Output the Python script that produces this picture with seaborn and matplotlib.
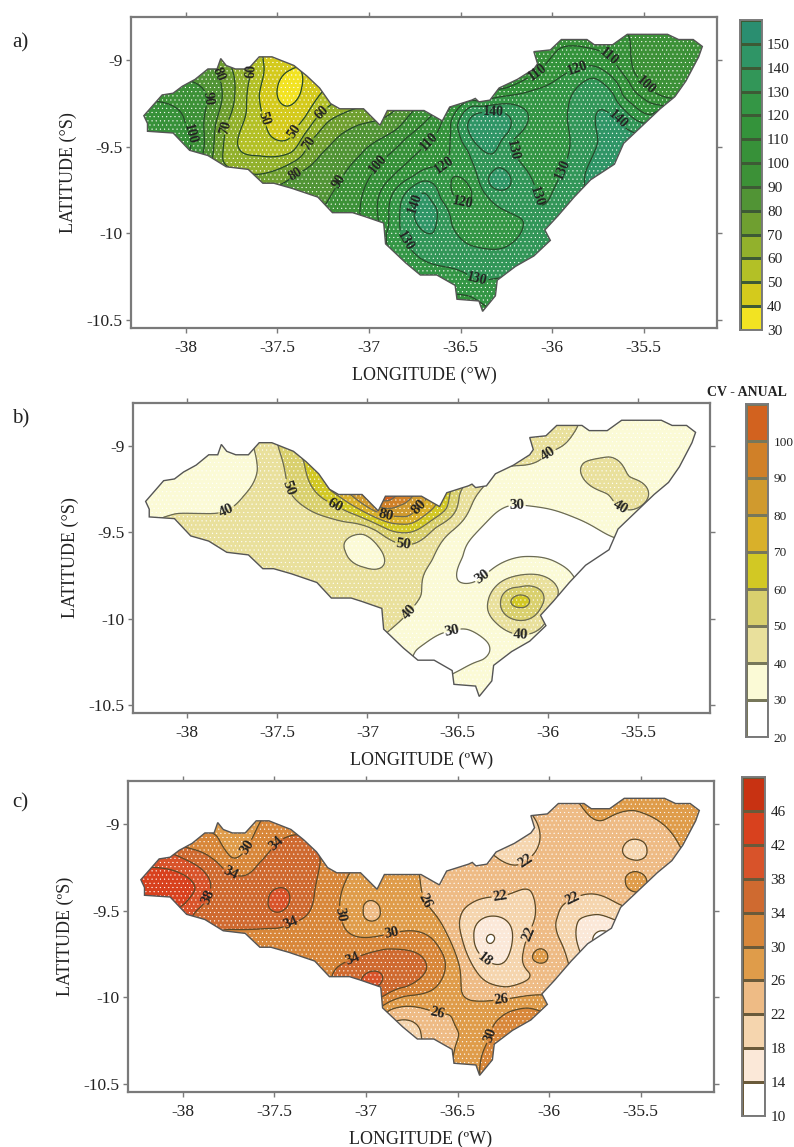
"""Mapas de Alagoas: precipitacao anual (a), CV anual (b) e um terceiro campo (c)."""
import numpy as np
import matplotlib
matplotlib.use("Agg")
import matplotlib.pyplot as plt
from matplotlib.colors import BoundaryNorm, ListedColormap
from matplotlib.patches import Polygon
import seaborn as sns

# contorno do estado (lon, lat)
OUTLINE_LON = [-38.23, -38.13, -38.07, -38.02, -37.95, -37.88, -37.83, -37.81, -37.78, -37.73, -37.66, -37.60,
               -37.53, -37.41, -37.34, -37.27, -37.21, -37.16, -37.03, -36.94, -36.90, -36.70, -36.60, -36.56,
               -36.44, -36.42, -36.40, -36.34, -36.29, -36.19, -36.10, -36.08, -36.10, -36.01, -35.95, -35.81,
               -35.77, -35.67, -35.59, -35.37, -35.31, -35.23, -35.18, -35.20, -35.27, -35.33, -35.41, -35.51,
               -35.61, -35.66, -35.79, -35.88, -35.97, -36.04, -36.01, -36.10, -36.20, -36.30, -36.31, -36.38,
               -36.40, -36.52, -36.53, -36.63, -36.72, -36.80, -36.91, -36.92, -37.03, -37.09, -37.20, -37.28,
               -37.42, -37.52, -37.58, -37.66, -37.78, -37.88, -37.98, -38.07, -38.21, -38.21]
OUTLINE_LAT = [-9.32, -9.20, -9.19, -9.15, -9.11, -9.05, -9.05, -8.99, -9.03, -9.05, -9.05, -8.98,
               -8.98, -9.03, -9.09, -9.16, -9.25, -9.28, -9.28, -9.375, -9.29, -9.29, -9.35, -9.27,
               -9.23, -9.22, -9.24, -9.23, -9.16, -9.11, -9.05, -9.02, -8.95, -8.94, -8.88, -8.88,
               -8.91, -8.91, -8.85, -8.85, -8.88, -8.88, -8.92, -8.98, -9.12, -9.21, -9.28, -9.38,
               -9.48, -9.60, -9.69, -9.79, -9.90, -9.98, -10.04, -10.13, -10.19, -10.27, -10.36, -10.45,
               -10.39, -10.38, -10.30, -10.24, -10.24, -10.17, -10.06, -9.94, -9.90, -9.88, -9.88, -9.79,
               -9.74, -9.71, -9.71, -9.63, -9.615, -9.55, -9.52, -9.42, -9.41, -9.365]

XTICKS = [-38, -37.5, -37, -36.5, -36, -35.5]
YTICKS = [-9, -9.5, -10, -10.5]
XTICK_LABELS = ["-38", "-37.5", "-37", "-36.5", "-36", "-35.5"]
YTICK_LABELS = ["-9", "-9.5", "-10", "-10.5"]

A_POINTS = [
    (-38.22, -9.33, 104), (-38.1, -9.3, 104), (-38.0, -9.38, 100), (-37.97, -9.45, 100), (-38.05, -9.2, 94),
    (-37.88, -9.22, 90), (-37.9, -9.5, 90), (-37.83, -9.06, 80), (-37.82, -9.3, 80), (-37.85, -9.53, 80),
    (-37.75, -9.05, 70), (-37.78, -9.38, 70), (-37.8, -9.58, 70), (-37.64, -9.04, 60), (-37.67, -9.3, 60),
    (-37.72, -9.48, 60), (-37.6, -9.55, 60), (-37.42, -9.53, 60), (-37.3, -9.35, 60), (-37.2, -9.27, 62),
    (-37.58, -9.0, 50), (-37.6, -9.2, 50), (-37.56, -9.38, 50), (-37.43, -9.45, 50), (-37.35, -9.33, 50),
    (-37.27, -9.2, 50), (-37.43, -9.16, 36), (-37.5, -9.16, 40), (-37.37, -9.16, 40), (-37.43, -9.06, 40),
    (-37.43, -9.26, 40), (-37.62, -9.66, 70), (-37.42, -9.59, 70), (-37.33, -9.48, 70), (-37.22, -9.35, 70),
    (-37.05, -9.29, 72), (-37.68, -9.72, 80), (-37.4, -9.66, 80), (-37.22, -9.5, 80), (-37.05, -9.37, 80),
    (-36.87, -9.3, 80), (-37.25, -9.85, 90), (-37.16, -9.7, 90), (-37.05, -9.55, 90), (-36.85, -9.4, 90),
    (-36.76, -9.29, 90), (-37.05, -9.88, 100), (-36.95, -9.6, 100), (-36.8, -9.45, 100), (-36.66, -9.32, 100),
    (-36.67, -9.47, 110), (-36.88, -9.68, 110), (-36.93, -9.98, 112), (-36.56, -9.28, 110), (-36.25, -9.16, 110),
    (-36.08, -9.07, 110), (-35.96, -8.93, 110), (-35.8, -8.93, 110), (-35.69, -8.98, 110), (-35.58, -9.12, 110),
    (-35.5, -9.22, 110), (-35.38, -9.27, 110), (-35.58, -8.86, 100), (-35.55, -9.08, 100), (-35.45, -9.18, 100),
    (-35.32, -9.22, 100), (-35.4, -8.95, 94), (-35.25, -8.93, 92), (-35.86, -9.05, 120), (-36.1, -9.17, 120),
    (-36.4, -9.24, 120), (-36.55, -9.4, 120), (-36.58, -9.6, 120), (-36.5, -9.63, 123), (-36.75, -9.68, 122),
    (-36.86, -9.75, 120), (-36.9, -10.0, 122), (-35.72, -9.06, 120), (-35.62, -9.2, 120), (-35.45, -9.32, 120),
    (-36.49, -9.75, 117), (-36.55, -9.75, 120), (-36.44, -9.75, 120), (-36.49, -9.68, 120), (-36.49, -9.82, 120),
    (-36.55, -9.95, 130), (-36.8, -10.04, 130), (-36.82, -9.8, 130), (-36.72, -9.7, 130),
    (-36.6, -9.8, 128), (-36.75, -9.85, 140), (-36.7, -9.76, 140), (-36.63, -9.85, 140), (-36.65, -10.0, 140),
    (-36.72, -9.97, 140), (-36.7, -9.88, 144), (-36.41, -10.11, 131), (-36.19, -10.11, 131), (-36.41, -10.27, 130),
    (-36.3, -10.2, 131), (-36.45, -10.36, 120), (-36.16, -9.96, 130), (-36.02, -9.81, 130), (-35.94, -9.63, 130),
    (-35.91, -9.27, 130), (-35.77, -9.1, 130), (-35.66, -9.2, 130), (-35.42, -9.32, 130), (-36.05, -9.51, 122),
    (-36.35, -9.97, 126), (-35.65, -9.33, 140), (-35.75, -9.47, 140), (-35.82, -9.65, 140), (-35.95, -9.9, 133),
    (-35.6, -9.45, 144), (-36.52, -9.38, 130), (-36.43, -9.26, 130), (-36.25, -9.25, 130), (-36.13, -9.33, 130),
    (-36.22, -9.46, 130), (-36.11, -9.69, 130), (-36.09, -9.77, 130), (-36.25, -9.87, 130), (-36.35, -9.79, 130),
    (-36.46, -9.52, 130), (-36.38, -9.3, 140), (-36.25, -9.31, 140), (-36.24, -9.42, 140), (-36.32, -9.65, 140),
    (-36.28, -9.75, 140), (-36.34, -9.72, 140), (-36.42, -9.48, 140), (-36.28, -9.37, 146), (-36.31, -9.68, 146),
    (-36.34, -9.5, 143),
]
A_LEVELS = list(range(30, 170, 10))
A_COLORS = ["#f2e322", "#d4ca1c", "#b3c026", "#92b12c", "#6f9f30", "#519435", "#3c9137",
            "#379139", "#34933b", "#349645", "#329658", "#2f9566", "#2a8e70"]
A_TICKS = list(range(30, 160, 10))
A_LABELS = [(-37.97, -9.42), (-37.88, -9.22), (-37.82, -9.08), (-37.8, -9.38), (-37.64, -9.06), (-37.58, -9.34),
            (-37.44, -9.39), (-37.33, -9.48), (-37.28, -9.28), (-37.4, -9.66), (-37.16, -9.7), (-36.95, -9.6),
            (-36.67, -9.47), (-36.08, -9.07), (-35.86, -9.05), (-35.69, -8.98), (-35.5, -9.16), (-36.32, -9.32),
            (-35.65, -9.35), (-36.16, -9.5), (-35.94, -9.63), (-36.58, -9.62), (-36.49, -9.82), (-36.16, -9.8),
            (-36.72, -9.83), (-36.8, -10.04), (-36.41, -10.27)]

# painel b
B_POINTS = [
    (-37.63, -9.01, 40), (-37.61, -9.14, 40), (-37.68, -9.28, 40), (-37.78, -9.375, 40), (-37.91, -9.39, 40),
    (-38.06, -9.39, 40), (-38.1, -9.3, 36), (-37.85, -9.2, 34), (-37.49, -9.02, 50), (-37.44, -9.24, 50),
    (-37.35, -9.35, 50), (-37.12, -9.44, 50), (-36.95, -9.49, 50), (-36.8, -9.57, 50), (-36.62, -9.47, 50),
    (-36.49, -9.28, 50), (-37.35, -9.1, 60), (-37.18, -9.34, 60), (-37.06, -9.40, 60), (-36.87, -9.49, 60),
    (-36.7, -9.47, 60), (-36.56, -9.36, 60), (-37.2, -9.26, 70), (-37.01, -9.385, 70), (-36.81, -9.45, 70),
    (-36.64, -9.365, 70), (-36.9, -9.40, 80), (-36.78, -9.41, 80), (-36.7, -9.34, 80), (-36.9, -9.3, 104),
    (-36.83, -9.33, 92), (-36.75, -9.29, 90), (-37.02, -9.61, 36), (-37.12, -9.61, 40), (-36.92, -9.61, 40),
    (-37.02, -9.51, 40), (-37.02, -9.70, 40), (-37.5, -9.6, 46), (-37.6, -9.45, 45), (-37.3, -9.7, 46),
    (-37.1, -9.8, 45), (-36.95, -9.9, 44), (-35.84, -8.90, 40), (-36.0, -9.04, 40), (-36.26, -9.13, 40),
    (-36.36, -9.24, 40), (-36.53, -9.49, 40), (-36.64, -9.66, 40), (-36.7, -9.86, 40), (-36.77, -9.96, 40),
    (-36.88, -10.07, 40), (-36.08, -9.0, 45), (-35.63, -9.53, 30), (-35.86, -9.41, 30), (-36.17, -9.34, 30),
    (-36.33, -9.43, 30), (-36.47, -9.64, 30), (-36.5, -9.78, 30), (-36.36, -9.76, 30), (-36.14, -9.64, 30),
    (-35.94, -9.68, 30), (-35.86, -9.75, 30), (-36.1, -9.5, 25), (-36.3, -9.55, 26), (-35.8, -9.55, 26),
    (-36.4, -9.63, 27), (-36.44, -9.74, 28),
    (-36.1, -9.25, 35), (-35.7, -9.0, 35), (-36.4, -9.6, 27), (-36.45, -9.9, 35), (-36.1, -9.7, 35),
    (-36.6, -9.95, 35), (-36.35, -10.3, 35), (-35.94, -9.84, 40), (-36.17, -9.75, 40), (-36.33, -9.90, 40),
    (-36.28, -10.03, 40), (-36.15, -10.09, 40), (-35.98, -9.93, 40), (-36.16, -9.82, 50), (-36.02, -9.90, 50),
    (-36.15, -10.01, 50), (-36.26, -9.90, 50), (-36.16, -9.86, 60), (-36.10, -9.9, 60), (-36.16, -9.93, 60),
    (-36.21, -9.9, 60), (-36.15, -9.9, 64), (-36.53, -10.07, 30), (-36.73, -10.18, 30), (-36.53, -10.32, 30),
    (-36.36, -10.24, 30), (-36.33, -10.14, 30), (-36.45, -10.06, 30), (-36.55, -10.18, 26), (-35.79, -9.09, 40),
    (-35.66, -9.06, 40), (-35.55, -9.18, 40), (-35.44, -9.28, 40), (-35.55, -9.37, 40), (-35.66, -9.28, 40),
    (-35.55, -9.28, 44), (-35.68, -9.15, 44), (-35.4, -9.05, 34), (-35.25, -8.95, 34), (-35.5, -8.87, 34),
    (-35.45, -9.42, 35), (-36.75, -10.1, 35),
]
B_LEVELS = list(range(20, 120, 10))
B_COLORS = ["#ffffff", "#fbfad6", "#e9e09c", "#d9d06e", "#d2c824",
            "#d9b02a", "#d09a2e", "#d08028", "#d2621f"]
B_TICKS = list(range(20, 110, 10))
B_LABELS = [(-37.78, -9.375), (-37.44, -9.24), (-37.18, -9.34), (-36.9, -9.40), (-36.7, -9.365), (-36.8, -9.57),
            (-36.0, -9.04), (-36.17, -9.34), (-36.36, -9.76), (-35.57, -9.3), (-36.77, -9.96), (-36.53, -10.07),
            (-36.15, -10.09)]

# painel c
C_POINTS = [
    (-38.14, -9.25, 42), (-38.0, -9.29, 42), (-37.93, -9.37, 42), (-37.99, -9.46, 42), (-38.1, -9.35, 44),
    (-38.2, -9.33, 43.5), (-38.03, -9.18, 38), (-37.88, -9.28, 38), (-37.86, -9.40, 38), (-37.93, -9.5, 38),
    (-38.0, -9.13, 34), (-37.81, -9.22, 34), (-37.74, -9.28, 34), (-37.59, -9.23, 34), (-37.49, -9.11, 34),
    (-37.38, -9.06, 34), (-37.25, -9.22, 34), (-37.28, -9.38, 34), (-37.41, -9.57, 34), (-37.53, -9.6, 34),
    (-37.78, -9.61, 34), (-37.6, -9.4, 36), (-37.4, -9.25, 36), (-37.7, -9.5, 36), (-37.48, -9.44, 40),
    (-37.53, -9.44, 38), (-37.42, -9.44, 38), (-37.48, -9.37, 38), (-37.48, -9.51, 38), (-37.65, -9.13, 30),
    (-37.73, -9.2, 30), (-37.81, -9.07, 30), (-37.59, -9.01, 30), (-37.72, -9.08, 28), (-37.09, -9.28, 30),
    (-37.14, -9.52, 30), (-37.11, -9.61, 30), (-36.86, -9.63, 30), (-36.64, -9.66, 30), (-36.57, -9.78, 30),
    (-36.59, -9.9, 30), (-36.78, -9.99, 30), (-36.91, -10.05, 30), (-37.2, -9.6, 32), (-37.0, -9.7, 32),
    (-37.3, -9.75, 32), (-37.07, -9.78, 34), (-36.89, -9.72, 34), (-36.7, -9.76, 34), (-36.67, -9.84, 34),
    (-36.78, -9.94, 34), (-36.92, -10.0, 34), (-36.85, -9.85, 36.5), (-36.96, -9.92, 39), (-36.71, -9.28, 26),
    (-36.68, -9.44, 26), (-36.59, -9.57, 26), (-36.49, -9.82, 26), (-36.48, -9.96, 26), (-36.42, -10.02, 26),
    (-36.26, -10.01, 26), (-36.0, -9.99, 26), (-36.61, -10.09, 26), (-36.87, -10.07, 26), (-36.53, -10.11, 26),
    (-36.49, -10.21, 26), (-36.52, -10.32, 26), (-36.65, -10.18, 24), (-36.8, -10.13, 22), (-36.7, -10.23, 22),
    (-36.75, -10.2, 20), (-36.32, -10.22, 30), (-36.27, -10.12, 30), (-36.12, -10.06, 30), (-36.38, -10.44, 30),
    (-36.2, -10.13, 32), (-36.45, -10.3, 28), (-36.45, -10.12, 28), (-36.9, -9.4, 28), (-36.8, -9.55, 28),
    (-36.97, -9.5, 24), (-37.01, -9.5, 26), (-36.93, -9.5, 26), (-36.97, -9.44, 26), (-36.97, -9.56, 26),
    (-36.3, -9.18, 22), (-36.13, -9.21, 22), (-36.05, -9.07, 22), (-36.09, -8.95, 22), (-36.2, -9.1, 20),
    (-36.27, -9.42, 22), (-36.1, -9.38, 22), (-36.08, -9.44, 22), (-36.14, -9.74, 22), (-36.1, -9.86, 22),
    (-36.23, -9.94, 22), (-36.39, -9.86, 22), (-36.49, -9.59, 22), (-36.43, -9.46, 22), (-36.3, -9.53, 18),
    (-36.21, -9.59, 18), (-36.24, -9.79, 18), (-36.35, -9.78, 18), (-36.41, -9.65, 18), (-36.3, -9.68, 14.5),
    (-36.32, -9.67, 13), (-36.08, -9.77, 27), (-35.87, -9.43, 22), (-35.95, -9.53, 22), (-35.95, -9.65, 22),
    (-35.89, -9.82, 22), (-35.6, -9.47, 22), (-35.84, -9.55, 18), (-35.73, -9.52, 18), (-35.65, -9.55, 18),
    (-35.84, -9.71, 18), (-35.75, -9.6, 16), (-35.73, -9.63, 13), (-35.52, -9.15, 20), (-35.6, -9.15, 22),
    (-35.47, -9.15, 22), (-35.52, -9.09, 22), (-35.52, -9.21, 22), (-35.53, -9.33, 28), (-35.58, -9.33, 26),
    (-35.47, -9.33, 26), (-35.53, -9.27, 26), (-35.53, -9.39, 26),
    (-35.77, -8.96, 26), (-35.71, -8.98, 26), (-35.53, -8.92, 26), (-35.39, -8.99, 26), (-35.28, -9.14, 26),
    (-35.3, -8.95, 28), (-35.5, -8.86, 28), (-35.9, -9.1, 24), (-35.65, -9.1, 24), (-36.4, -9.3, 24),
    (-35.9, -9.3, 24), (-36.55, -9.4, 24), (-36.0, -9.9, 24), (-35.4, -9.25, 24),
]
C_LEVELS = list(range(10, 54, 4))
C_COLORS = ["#ffffff", "#fbe8d8", "#f5d5ae", "#eebb85", "#df9c4a",
            "#d8873a", "#cf6a30", "#d8532a", "#d8411e", "#c83212"]
C_TICKS = list(range(10, 50, 4))
C_LABELS = [(-37.88, -9.41), (-37.74, -9.28), (-37.49, -9.11), (-37.65, -9.13), (-37.41, -9.57), (-37.14, -9.52),
            (-36.86, -9.63), (-37.07, -9.78), (-36.68, -9.44), (-36.13, -9.21), (-36.27, -9.42), (-35.87, -9.43),
            (-36.12, -9.63), (-36.35, -9.78), (-36.26, -10.01), (-36.61, -10.09), (-36.32, -10.22)]

BLACK = "#222222"
FRAME = "#7a7a7a"


def tps_field(points, lon_grid, lat_grid):
    """Campo suave (thin plate) passando pelos valores lidos"""
    p = np.array(points, dtype=float)
    xy = p[:, :2]
    n = len(p)
    d = np.linalg.norm(xy[:, None] - xy[None, :], axis=2)
    k = np.where(d > 0, d**2 * np.log(d + 1e-12), 0) + np.eye(n) * 1e-3
    q = np.column_stack([np.ones(n), xy])
    mat = np.block([[k, q], [q.T, np.zeros((3, 3))]])
    rhs = np.concatenate([p[:, 2], np.zeros(3)])
    sol = np.linalg.solve(mat, rhs)
    gx, gy = np.meshgrid(lon_grid, lat_grid)
    g = np.column_stack([gx.ravel(), gy.ravel()])
    dg = np.linalg.norm(g[:, None] - xy[None, :], axis=2)
    kg = np.where(dg > 0, dg**2 * np.log(dg + 1e-12), 0)
    z = kg @ sol[:n] + sol[n] + g @ sol[n + 1:]
    return gx, gy, z.reshape(gx.shape)


def px_axes(fig, left, top, right, bottom):
    w, h = fig.get_size_inches() * fig.dpi
    return fig.add_axes([left / w, 1 - bottom / h, (right - left) / w, (bottom - top) / h])


def draw_map(fig, box, points, levels, colors, labels, line_color, dot_color, label_size, tag, tag_y, ylab):
    ax = px_axes(fig, *box)
    lon = np.linspace(-38.3, -35.1, 330)
    lat = np.linspace(-10.55, -8.75, 190)
    gx, gy, z = tps_field(points, lon, lat)
    z = np.clip(z, levels[0] + 0.1, levels[-1] - 0.1)
    cmap = ListedColormap(colors)
    norm = BoundaryNorm(levels, cmap.N)
    shape = Polygon(np.column_stack([OUTLINE_LON, OUTLINE_LAT]), closed=True, facecolor="none",
                    edgecolor="#555555", linewidth=1.0, zorder=4)
    ax.add_patch(shape)
    # pontilhado do original
    plt.rcParams["hatch.color"] = dot_color
    plt.rcParams["hatch.linewidth"] = 0.3
    cf = ax.contourf(gx, gy, z, levels=levels, cmap=cmap, norm=norm, hatches=["...."] * len(colors))
    cf.set_clip_path(shape)
    cs = ax.contour(gx, gy, z, levels=levels, colors=line_color, linewidths=0.9)
    cs.set_clip_path(shape)
    txt = ax.clabel(cs, fmt="%d", fontsize=label_size, colors=BLACK, manual=labels, inline=True, inline_spacing=1)
    for t in txt:
        t.set_fontweight("bold")
    ax.set_xlim(-38.3, -35.1)
    ax.set_ylim(-10.546, -8.75)
    ax.set_xticks(XTICKS, XTICK_LABELS)
    ax.set_yticks(YTICKS, YTICK_LABELS)
    ax.tick_params(axis="both", top=True, right=True, direction="out", length=3.5, width=1, color=FRAME,
                   labelsize=12.5, labelcolor=BLACK, pad=5)
    ax.tick_params(axis="y", pad=2.5)
    for s in ax.spines.values():
        s.set_color(FRAME)
        s.set_linewidth(1.6)
    ax.set_xlabel(ylab[0], fontsize=13, color=BLACK, labelpad=8)
    ax.set_ylabel(ylab[1], fontsize=13, color=BLACK, labelpad=7)
    fig.text(12 / 794, 1 - tag_y / 1147, tag, fontsize=15, color=BLACK, va="center")
    return ax


def draw_bar(fig, box, levels, colors, ticks, line_color, size):
    ax = px_axes(fig, *box)
    mids = (np.array(levels[:-1]) + np.array(levels[1:])) / 2
    cmap = ListedColormap(colors)
    norm = BoundaryNorm(levels, cmap.N)
    sns.heatmap(mids[::-1].reshape(-1, 1), ax=ax, cmap=cmap, norm=norm, cbar=False, xticklabels=False,
                linewidths=0.9, linecolor=line_color)
    n = len(colors)
    ax.yaxis.tick_right()
    ax.set_yticks([n - levels.index(v) for v in ticks], [str(v) for v in ticks], rotation=0)
    ax.tick_params(axis="y", length=0, labelsize=size, labelcolor=BLACK, pad=4)
    for s in ax.spines.values():
        s.set_visible(True)
        s.set_color(FRAME)
        s.set_linewidth(1.4)
    return ax


def main():
    sns.set_theme(style="ticks")
    plt.rcParams["font.family"] = ["Liberation Serif", "DejaVu Serif"]
    fig = plt.figure(figsize=(7.94, 11.47), dpi=100, facecolor="white")

    draw_map(fig, (131, 17, 717, 328), A_POINTS, A_LEVELS, A_COLORS, A_LABELS, "#27492a", "#8fae45", 10, "a)", 43,
             ("LONGITUDE (°W)", "LATITUDE (°S)"))
    draw_bar(fig, (740, 20, 761.5, 330), A_LEVELS, A_COLORS, A_TICKS, "#3d5a35", 11)

    draw_map(fig, (133, 403, 710, 713), B_POINTS, B_LEVELS, B_COLORS, B_LABELS, "#6a6a55", "#e3c79a", 11, "b)", 419,
             ("LONGITUDE (ºW)", "LATITUDE (°S)"))
    draw_bar(fig, (746, 404, 768, 737), B_LEVELS, B_COLORS, B_TICKS, "#77775a", 9.5)
    fig.text(707 / 794, 1 - 392 / 1147, "CV - ANUAL", fontsize=10, fontweight="bold", color=BLACK, va="center")

    draw_map(fig, (128, 781, 714, 1092), C_POINTS, C_LEVELS, C_COLORS, C_LABELS, "#5a4a2a", "#eec9a0", 10.5, "c)", 803,
             ("LONGITUDE (ºW)", "LATITUDE (ºS)"))
    draw_bar(fig, (742, 777, 765, 1116), C_LEVELS, C_COLORS, C_TICKS, "#6a5a3a", 11)

    fig.savefig("out.png", dpi=100)


if __name__ == "__main__":
    main()
